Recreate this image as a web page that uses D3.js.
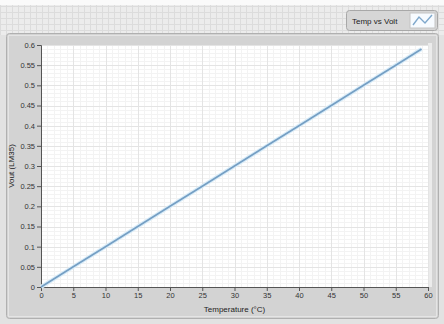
<!DOCTYPE html>
<html>
<head>
<meta charset="utf-8">
<script src="https://cdn.jsdelivr.net/npm/d3@7"></script>
<style>
  body { margin: 0; background: #fff; }
  svg { display: block; font-family: "Liberation Sans", Arial, sans-serif; }
</style>
</head>
<body>
<div id="chart"></div>
<script>
// data (temperature in °C, Vout in V)
const temperature = [0, 5, 10, 15, 20, 25, 30, 35, 40, 45, 50, 55, 59];
const vout = [0, 0.05, 0.1, 0.15, 0.2, 0.25, 0.3, 0.35, 0.4, 0.45, 0.5, 0.55, 0.59];
const xTicks = [0, 5, 10, 15, 20, 25, 30, 35, 40, 45, 50, 55, 60];
const yTicks = [0, 0.05, 0.1, 0.15, 0.2, 0.25, 0.3, 0.35, 0.4, 0.45, 0.5, 0.55, 0.6];
const seriesName = 'Temp vs Volt';

const W = 444, H = 324;
const plot = { left: 41, right: 428, top: 45, bottom: 287 };

const svg = d3.select('#chart').append('svg').attr('width', W).attr('height', H);

// front panel background with LabVIEW style grid
const defs = svg.append('defs');
const pat = defs.append('pattern').attr('id', 'panelGrid')
  .attr('width', 6).attr('height', 6).attr('patternUnits', 'userSpaceOnUse');
pat.append('rect').attr('width', 6).attr('height', 6).attr('fill', '#ececec');
pat.append('path').attr('d', 'M0,0.5H6M0.5,0V6').attr('stroke', '#dcdcdc').attr('stroke-width', 1);

svg.append('rect').attr('x', 0).attr('y', 0).attr('width', W).attr('height', H).attr('fill', '#e2e2e2');
svg.append('rect').attr('x', 0).attr('y', 5).attr('width', W).attr('height', 30).attr('fill', 'url(#panelGrid)');
svg.append('rect').attr('x', 0).attr('y', 0).attr('width', W).attr('height', 5).attr('fill', '#fafafa');

// graph frame
svg.append('rect').attr('x', 6.5).attr('y', 33.5).attr('width', 432).attr('height', 285)
  .attr('rx', 3).attr('fill', '#d3d3d3').attr('stroke', '#b0b0b0');
svg.append('rect').attr('x', 8.5).attr('y', 35.5).attr('width', 428).attr('height', 281)
  .attr('fill', 'none').attr('stroke', '#e4e4e4');

// legend
const lg = svg.append('g');
lg.append('rect').attr('x', 346.5).attr('y', 10.5).attr('width', 91).attr('height', 20)
  .attr('rx', 3).attr('fill', '#d6d6d6').attr('stroke', '#a8a8a8');
lg.append('text').attr('x', 352).attr('y', 23.5).attr('font-size', 8).attr('fill', '#222')
  .text(seriesName);
lg.append('rect').attr('x', 410).attr('y', 13).attr('width', 25).attr('height', 15)
  .attr('fill', '#f7fbff').attr('stroke', '#c4c4c4');
lg.append('path').attr('d', 'M413,25L419,17L425,23L432,15')
  .attr('fill', 'none').attr('stroke', '#7fa8cc').attr('stroke-width', 1.4);

// scales
const x = d3.scaleLinear().domain([0, 60]).range([plot.left, plot.right]);
const y = d3.scaleLinear().domain([0, 0.6]).range([plot.bottom, plot.top]);

// plot area
svg.append('rect').attr('x', plot.left).attr('y', plot.top)
  .attr('width', plot.right - plot.left).attr('height', plot.bottom - plot.top)
  .attr('fill', '#ffffff');
svg.append('rect').attr('x', plot.right).attr('y', plot.top - 2)
  .attr('width', 4).attr('height', plot.bottom - plot.top + 2).attr('fill', '#ebebeb');

// minor grid
const xMinor = d3.range(0, 61, 1);
const yMinor = d3.range(0, 61, 1).map((d) => d / 100);
svg.append('g').selectAll('line').data(xMinor).join('line')
  .attr('x1', (d) => Math.round(x(d)) + 0.5).attr('x2', (d) => Math.round(x(d)) + 0.5)
  .attr('y1', plot.top).attr('y2', plot.bottom)
  .attr('stroke', '#f3f3f3');
svg.append('g').selectAll('line').data(yMinor).join('line')
  .attr('y1', (d) => Math.round(y(d)) + 0.5).attr('y2', (d) => Math.round(y(d)) + 0.5)
  .attr('x1', plot.left).attr('x2', plot.right)
  .attr('stroke', '#f3f3f3');

// major grid
svg.append('g').selectAll('line').data(xTicks).join('line')
  .attr('x1', (d) => Math.round(x(d)) + 0.5).attr('x2', (d) => Math.round(x(d)) + 0.5)
  .attr('y1', plot.top).attr('y2', plot.bottom)
  .attr('stroke', '#e4e4e4');
svg.append('g').selectAll('line').data(yTicks).join('line')
  .attr('y1', (d) => Math.round(y(d)) + 0.5).attr('y2', (d) => Math.round(y(d)) + 0.5)
  .attr('x1', plot.left).attr('x2', plot.right)
  .attr('stroke', '#e4e4e4');

// axes
const axisY = d3.axisLeft(y).tickValues(yTicks).tickSize(4).tickPadding(2)
  .tickFormat((d) => d3.format('')(+d.toFixed(2)));
const axisX = d3.axisBottom(x).tickValues(xTicks).tickSize(4).tickPadding(2);

const gy = svg.append('g').attr('transform', `translate(${plot.left},0)`).call(axisY);
const gx = svg.append('g').attr('transform', `translate(0,${plot.bottom})`).call(axisX);
[gx, gy].forEach((g) => {
  g.select('.domain').attr('stroke', '#555');
  g.selectAll('.tick line').attr('stroke', '#555');
  g.selectAll('.tick text').attr('fill', '#333').attr('font-size', 7.5)
    .attr('font-family', '"Liberation Sans", Arial, sans-serif');
});

// axis titles
svg.append('text').attr('x', (plot.left + plot.right) / 2).attr('y', 312)
  .attr('text-anchor', 'middle').attr('font-size', 8).attr('fill', '#222')
  .text('Temperature (°C)');
svg.append('text').attr('transform', `translate(14,${(plot.top + plot.bottom) / 2}) rotate(-90)`)
  .attr('text-anchor', 'middle').attr('font-size', 8).attr('fill', '#222')
  .text('Vout (LM35)');

// series
const pts = temperature.map((t, i) => [t, vout[i]]);
const line = d3.line().x((d) => x(d[0])).y((d) => y(d[1]));
svg.append('path').datum(pts).attr('d', line)
  .attr('fill', 'none').attr('stroke', '#d9ecf8').attr('stroke-width', 4);
svg.append('path').datum(pts).attr('d', line)
  .attr('fill', 'none').attr('stroke', '#759fc4').attr('stroke-width', 1.7);
</script>
</body>
</html>
